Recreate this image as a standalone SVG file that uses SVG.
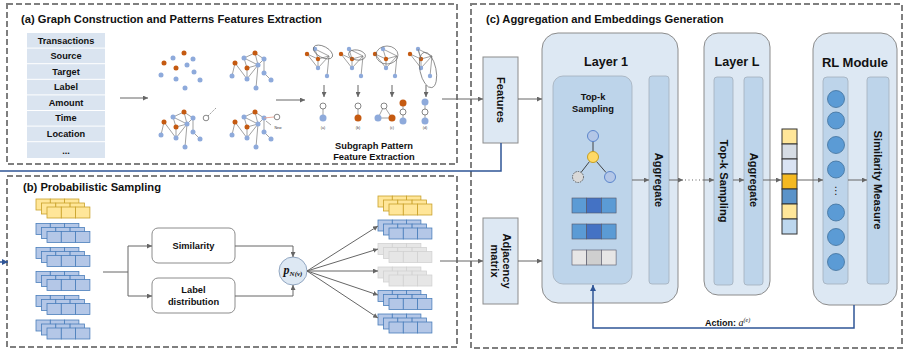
<svg xmlns="http://www.w3.org/2000/svg" xmlns:xlink="http://www.w3.org/1999/xlink" width="906" height="351" viewBox="0 0 906 351">
<style>
.panel{fill:none;stroke:#7f7f7f;stroke-width:2;stroke-dasharray:6,3}
.title{font-family:"Liberation Sans",Arial,sans-serif;font-weight:bold;font-size:11.2px;fill:#111}
.lbl{font-family:"Liberation Sans",Arial,sans-serif;font-weight:bold;fill:#111;text-anchor:middle;dominant-baseline:central}
.cell{fill:#dae4f0}
.box{fill:#dde8f3;stroke:#8c8c8c;stroke-width:1}
.inner{fill:#bdd4ea;stroke:#a3afbb;stroke-width:0.8}
.edge{stroke:#7a7a7a;stroke-width:0.7;fill:none}
.on{fill:#c55a11}
.bn{fill:#8eaadb}
.wn{fill:#fff;stroke:#555;stroke-width:0.7}
.conn{stroke:#666;stroke-width:1;fill:none}
.blue{stroke:#2f5597;stroke-width:1.5;fill:none}
.ell{fill:none;stroke:#666;stroke-width:0.7}
.tiny{font-family:"Liberation Sans",Arial,sans-serif;font-size:3.5px;fill:#333;text-anchor:middle}
</style>
<defs>
<marker id="ah" viewBox="0 0 10 10" refX="10" refY="5" markerWidth="5" markerHeight="5" markerUnits="userSpaceOnUse" orient="auto"><path d="M0,0 L10,5 L0,10 z" fill="#666"/></marker>
<marker id="ahb" viewBox="0 0 10 10" refX="10" refY="5" markerWidth="6" markerHeight="6" markerUnits="userSpaceOnUse" orient="auto"><path d="M0,0 L10,5 L0,10 z" fill="#2f5597"/></marker>
<g id="row3"><rect width="14.3" height="11"/><rect x="14.3" width="14.3" height="11"/><rect x="28.6" width="14.3" height="11"/></g>
<g id="stk"><use xlink:href="#row3"/><use xlink:href="#row3" x="5.5" y="4"/><use xlink:href="#row3" x="11" y="8"/></g>
<g id="fg">
<path class="edge" d="M11,-5L0,0M11,-5L20,1M11,-5L14,7M0,0L14,7M0,0L3,10M-9,5L-12,18M-9,5L3,21M3,10L14,7M3,10L3,21M14,7L3,21M14,7L12,30M20,1L20,15M20,15L27,22M20,1L14,7"/>
<circle class="on" cx="11" cy="-5" r="2.5"/><circle class="on" cx="-9" cy="5" r="2.5"/><circle class="on" cx="3" cy="10" r="2.5"/>
<circle class="bn" cx="0" cy="0" r="2.5"/><circle class="bn" cx="20" cy="1" r="2.5"/><circle class="bn" cx="14" cy="7" r="2.5"/><circle class="bn" cx="-12" cy="18" r="2.5"/><circle class="bn" cx="3" cy="21" r="2.5"/><circle class="bn" cx="20" cy="15" r="2.5"/><circle class="bn" cx="27" cy="22" r="2.5"/><circle class="bn" cx="12" cy="30" r="2.5"/>
</g>
<g id="sg">
<path class="edge" d="M0,0L3,10M0,0L14,7M-8,5L3,19M-8,5L3,10M3,10L14,7M3,10L3,19M3,19L14,7M14,7L12,27"/>
<circle class="on" cx="-8" cy="5" r="2.2"/><circle class="on" cx="3" cy="10" r="2.2"/>
<circle class="bn" cx="0" cy="0" r="2.2"/><circle class="bn" cx="3" cy="19" r="2.2"/><circle class="bn" cx="12" cy="27" r="2.2"/>
</g>
</defs>

<!-- panels -->
<rect class="panel" x="7" y="4" width="450" height="160"/>
<rect class="panel" x="7" y="176" width="450" height="171"/>
<rect class="panel" x="471" y="4" width="431" height="344"/>
<text class="title" x="21" y="23">(a) Graph Construction and Patterns Features Extraction</text>
<text class="title" x="23" y="191">(b) Probabilistic Sampling</text>
<text class="title" x="486" y="23">(c) Aggregation and Embeddings Generation</text>

<!-- panel a: table -->
<g id="table">
<rect class="cell" x="27" y="33" width="78" height="14.6"/>
<rect class="cell" x="27" y="48.6" width="78" height="14.6"/>
<rect class="cell" x="27" y="64.2" width="78" height="14.6"/>
<rect class="cell" x="27" y="79.8" width="78" height="14.6"/>
<rect class="cell" x="27" y="95.4" width="78" height="14.6"/>
<rect class="cell" x="27" y="111" width="78" height="14.6"/>
<rect class="cell" x="27" y="126.6" width="78" height="14.6"/>
<rect class="cell" x="27" y="142.2" width="78" height="15.8"/>
<g class="lbl" font-size="9.2">
<text x="66" y="40.5">Transactions</text>
<text x="66" y="56">Source</text>
<text x="66" y="71.6">Target</text>
<text x="66" y="87.2">Label</text>
<text x="66" y="102.8">Amount</text>
<text x="66" y="118.4">Time</text>
<text x="66" y="134">Location</text>
<text x="66" y="150.5">...</text>
</g>
</g>

<!-- panel a: graphs -->
<g id="graphs">
<g id="scatter">
<circle class="on" cx="184" cy="53" r="2.5"/><circle class="on" cx="164" cy="63" r="2.5"/><circle class="on" cx="176" cy="68" r="2.5"/>
<circle class="bn" cx="173" cy="58" r="2.5"/><circle class="bn" cx="193" cy="59" r="2.5"/><circle class="bn" cx="187" cy="65" r="2.5"/><circle class="bn" cx="161" cy="75" r="2.5"/><circle class="bn" cx="176" cy="79" r="2.5"/><circle class="bn" cx="194" cy="72" r="2.5"/><circle class="bn" cx="200" cy="80" r="2.5"/><circle class="bn" cx="185" cy="88" r="2.5"/>
</g>
<use xlink:href="#fg" transform="translate(244,58)"/>
<g id="graph-new1">
<use xlink:href="#fg" transform="translate(173,117)"/>
<line x1="208" y1="116" x2="216" y2="108" stroke="#666" stroke-width="0.7" stroke-dasharray="1.5,1"/>
<circle class="wn" cx="206" cy="118" r="2.8"/>
</g>
<g id="graph-new2">
<use xlink:href="#fg" transform="translate(244,117)"/>
<line x1="264" y1="118" x2="274" y2="117" stroke="#e8a090" stroke-width="0.9"/>
<line x1="266" y1="121" x2="271" y2="125" stroke="#444" stroke-width="0.5"/>
<circle class="wn" cx="277" cy="117" r="2.8"/>
<text class="tiny" x="278" y="129">New</text>
</g>
</g>

<!-- panel a: subgraph patterns -->
<g id="subgraphs">
<use xlink:href="#sg" transform="translate(315,49)"/>
<ellipse class="ell" cx="323" cy="52" rx="10.5" ry="5.5" transform="rotate(28 323 52)"/>
<use xlink:href="#sg" transform="translate(349,49)"/>
<ellipse class="ell" cx="357" cy="55" rx="8.5" ry="5" transform="rotate(10 357 55)"/>
<use xlink:href="#sg" transform="translate(383,49)"/>
<ellipse class="ell" cx="387" cy="55" rx="11" ry="9"/>
<use xlink:href="#sg" transform="translate(418,49)"/>
<path class="edge" d="M418,49L421,59" stroke="#e8a070"/>
<ellipse class="ell" cx="428" cy="70" rx="8" ry="18" transform="rotate(-12 428 70)"/>
<g class="conn" stroke-width="0.8">
<line x1="324" y1="85" x2="324" y2="97" marker-end="url(#ah)"/>
<line x1="358" y1="85" x2="358" y2="97" marker-end="url(#ah)"/>
<line x1="392" y1="85" x2="392" y2="97" marker-end="url(#ah)"/>
<line x1="426" y1="85" x2="426" y2="97" marker-end="url(#ah)"/>
</g>
<path class="edge" d="M323,106L323,118M358,106L358,118M384,106L378,118L392,118Z M403,103L403,121M425,102L425,121"/>
<circle class="wn" cx="323" cy="106" r="3"/><circle class="bn" cx="323" cy="118" r="3.5"/>
<circle class="wn" cx="358" cy="106" r="3"/><circle class="on" cx="358" cy="118" r="3.5"/>
<circle class="wn" cx="384" cy="106" r="3"/><circle class="bn" cx="378" cy="118" r="3.5"/><circle class="on" cx="392" cy="118" r="3.5"/>
<circle class="on" cx="403" cy="103" r="3.5"/><circle class="wn" cx="403" cy="112" r="3"/><circle class="bn" cx="403" cy="121" r="3.5"/>
<circle class="bn" cx="425" cy="102" r="3.5"/><circle class="wn" cx="425" cy="112" r="3"/><circle class="bn" cx="425" cy="121" r="3.5"/>
<text class="tiny" x="323" y="129">(a)</text><text class="tiny" x="358" y="129">(b)</text><text class="tiny" x="392" y="129">(c)</text><text class="tiny" x="425" y="129">(d)</text>
<text class="lbl" font-size="9.3" x="374" y="146">Subgraph  Pattern</text>
<text class="lbl" font-size="9.3" x="374" y="157">Feature Extraction</text>
</g>

<!-- panel b -->
<g id="stacks-left">
<use xlink:href="#stk" x="36" y="199" fill="#ffe699" stroke="#c9a12a" stroke-width="0.8"/>
<g fill="#b4c7e7" stroke="#4a7ebb" stroke-width="0.8">
<use xlink:href="#stk" x="36" y="223.5"/>
<use xlink:href="#stk" x="36" y="247.5"/>
<use xlink:href="#stk" x="36" y="271.5"/>
<use xlink:href="#stk" x="36" y="295.5"/>
<use xlink:href="#stk" x="36" y="320"/>
</g>
</g>
<g id="similarity">
<rect x="152" y="228" width="83" height="35" rx="6" fill="#fff" stroke="#8c8c8c"/>
<text class="lbl" font-size="9.3" x="193.5" y="245.5">Similarity</text>
</g>
<g id="labeldist">
<rect x="152" y="278" width="83" height="35" rx="6" fill="#fff" stroke="#8c8c8c"/>
<text class="lbl" font-size="9.3" x="193.5" y="290">Label</text>
<text class="lbl" font-size="9.3" x="193.5" y="302">distribution</text>
</g>
<g id="pnode">
<circle cx="293" cy="271" r="14" fill="#dde8f3" stroke="#7c94b4" stroke-width="0.8"/>
<text x="293" y="274" text-anchor="middle" font-family="'Liberation Serif',serif" font-style="italic" font-weight="bold" fill="#111"><tspan font-size="12">p</tspan><tspan font-size="7" dy="1.5">N(v)</tspan></text>
</g>
<g id="stacks-right">
<use xlink:href="#stk" x="378" y="196" fill="#ffe699" stroke="#c9a12a" stroke-width="0.8"/>
<g fill="#b4c7e7" stroke="#4a7ebb" stroke-width="0.8">
<use xlink:href="#stk" x="378" y="220"/>
<use xlink:href="#stk" x="378" y="290.5"/>
<use xlink:href="#stk" x="378" y="314"/>
</g>
<g fill="#e6e6e6" stroke="#d2d2d2" stroke-width="0.8">
<use xlink:href="#stk" x="378" y="243.5"/>
<use xlink:href="#stk" x="378" y="267"/>
</g>
</g>

<!-- panel c -->
<g id="features">
<rect class="box" x="483" y="57" width="35" height="86"/>
<text class="lbl" font-size="11" transform="translate(500.5,100) rotate(90)">Features</text>
</g>
<g id="adjacency">
<rect class="box" x="483" y="218" width="35" height="86"/>
<text class="lbl" font-size="11" transform="translate(500.5,261) rotate(90)"><tspan x="0" y="-6">Adjacency</tspan><tspan x="0" y="6">matrix</tspan></text>
</g>
<g id="layer1">
<rect class="box" x="542" y="33" width="136" height="270" rx="16"/>
<text class="lbl" font-size="12.6" x="606" y="62">Layer 1</text>
<rect class="inner" x="553" y="76" width="79" height="208" rx="10"/>
<text class="lbl" font-size="9.3" x="593" y="97">Top-k</text>
<text class="lbl" font-size="9.3" x="593" y="108.5">Sampling</text>
<path d="M593,141.5V151.5M589.5,161.5L581,172.5M596.5,161.5L606,172.5" stroke="#333" stroke-width="0.9"/>
<circle cx="593" cy="136" r="5.5" fill="#b4c7e7" stroke="#4472c4" stroke-width="0.8"/>
<circle cx="593" cy="157" r="5.5" fill="#ffd966" stroke="#bf9000" stroke-width="0.8"/>
<circle cx="578" cy="177" r="5.5" fill="#d9d9d9" stroke="#444" stroke-width="0.8" stroke-dasharray="1.5,1"/>
<circle cx="610" cy="177" r="5.5" fill="#b4c7e7" stroke="#4472c4" stroke-width="0.8"/>
<g stroke="#556" stroke-width="0.6">
<rect x="572" y="198" width="14.7" height="15" fill="#5b9bd5"/><rect x="586.7" y="198" width="14.7" height="15" fill="#4472c4"/><rect x="601.4" y="198" width="14.7" height="15" fill="#5b9bd5"/>
<rect x="572" y="224" width="14.7" height="15" fill="#5b9bd5"/><rect x="586.7" y="224" width="14.7" height="15" fill="#4472c4"/><rect x="601.4" y="224" width="14.7" height="15" fill="#5b9bd5"/>
<rect x="572" y="250" width="14.7" height="15" fill="#e7e6e6"/><rect x="586.7" y="250" width="14.7" height="15" fill="#cfcfcf"/><rect x="601.4" y="250" width="14.7" height="15" fill="#e7e6e6"/>
</g>
<rect class="inner" x="649" y="76" width="20" height="208" rx="3"/>
<text class="lbl" font-size="11" transform="translate(659,180) rotate(90)">Aggregate</text>
</g>
<g id="layerL">
<rect class="box" x="704" y="33" width="66" height="262" rx="14"/>
<text class="lbl" font-size="12.6" x="737" y="62">Layer L</text>
<rect class="inner" x="714" y="77" width="19" height="208" rx="3"/>
<text class="lbl" font-size="11.2" transform="translate(723.5,181) rotate(90)">Top-k Sampling</text>
<rect class="inner" x="744" y="77" width="19" height="208" rx="3"/>
<text class="lbl" font-size="11" transform="translate(753.5,180) rotate(90)">Aggregate</text>
</g>
<g id="embedding" stroke="#333" stroke-width="1">
<rect x="782" y="129" width="15" height="15" fill="#ffe699"/>
<rect x="782" y="144" width="15" height="15" fill="#d6dce4"/>
<rect x="782" y="159" width="15" height="15" fill="#dae3f3"/>
<rect x="782" y="174" width="15" height="15" fill="#f5b921"/>
<rect x="782" y="189" width="15" height="15" fill="#5b93c9"/>
<rect x="782" y="204" width="15" height="15" fill="#ffe699"/>
<rect x="782" y="219" width="15" height="15" fill="#bdd7ee"/>
</g>
<g id="rlmodule">
<rect class="box" x="813" y="33" width="84" height="272" rx="16"/>
<text class="lbl" font-size="13" x="855" y="62">RL Module</text>
<rect class="inner" x="823" y="77" width="25" height="207" rx="4"/>
<g fill="#5b9bd5" stroke="#41719c" stroke-width="0.8">
<circle cx="836" cy="99" r="8.5"/><circle cx="836" cy="120.5" r="8.5"/><circle cx="836" cy="145" r="8.5"/><circle cx="836" cy="169.5" r="8.5"/><circle cx="836" cy="212.5" r="8.5"/><circle cx="836" cy="237" r="8.5"/><circle cx="836" cy="262" r="8.5"/>
</g>
<text x="836" y="190" text-anchor="middle" dominant-baseline="central" font-family="'DejaVu Sans',sans-serif" font-size="10" fill="#111">⋮</text>
<rect class="inner" x="867" y="77" width="22" height="207" rx="3"/>
<text class="lbl" font-size="11.2" transform="translate(878,180) rotate(90)">Similarity Measure</text>
</g>
<text x="705" y="326" font-family="'Liberation Sans',Arial,sans-serif" font-weight="bold" font-size="9" fill="#111">Action: <tspan font-family="'Liberation Serif',serif" font-style="italic" font-weight="normal" font-size="10">a</tspan><tspan font-family="'Liberation Serif',serif" font-style="italic" font-weight="normal" font-size="6" dy="-4">(e)</tspan></text>

<!-- connectors -->
<g id="connectors">
<g class="conn" marker-end="url(#ah)">
<line x1="120" y1="98" x2="148" y2="98"/>
<line x1="276" y1="100" x2="305" y2="100"/>
<line x1="442" y1="99" x2="483" y2="99"/>
<line x1="518" y1="99" x2="542" y2="99"/>
<line x1="518" y1="261" x2="542" y2="261"/>
<line x1="440" y1="261" x2="483" y2="261"/>
<line x1="128" y1="246" x2="152" y2="246"/>
<line x1="128" y1="296" x2="152" y2="296"/>
<path d="M235,246H293V257"/>
<path d="M235,296H293V285"/>
<line x1="307" y1="271" x2="378" y2="226"/>
<line x1="307" y1="271" x2="378" y2="249"/>
<line x1="307" y1="271" x2="378" y2="271"/>
<line x1="307" y1="271" x2="378" y2="295"/>
<line x1="307" y1="271" x2="378" y2="318"/>
<line x1="632" y1="180" x2="649" y2="180"/>
<line x1="669" y1="180" x2="683" y2="180"/>
<line x1="703" y1="180" x2="714" y2="180"/>
<line x1="733" y1="180" x2="744" y2="180"/>
<line x1="763" y1="180" x2="781" y2="180"/>
<line x1="797" y1="180" x2="823" y2="180"/>
<line x1="848" y1="180" x2="867" y2="180"/>
</g>
<path class="conn" d="M103,272H128M128,246V296"/>
<line x1="685" y1="180" x2="703" y2="180" stroke="#666" stroke-width="1.2" stroke-dasharray="1,2.5"/>
<path class="blue" d="M501,143V171H0"/>
<line class="blue" x1="0" y1="262" x2="8" y2="262" marker-end="url(#ahb)"/>
<path class="blue" d="M854,305V328H593V285" marker-end="url(#ahb)"/>
</g>
</svg>
